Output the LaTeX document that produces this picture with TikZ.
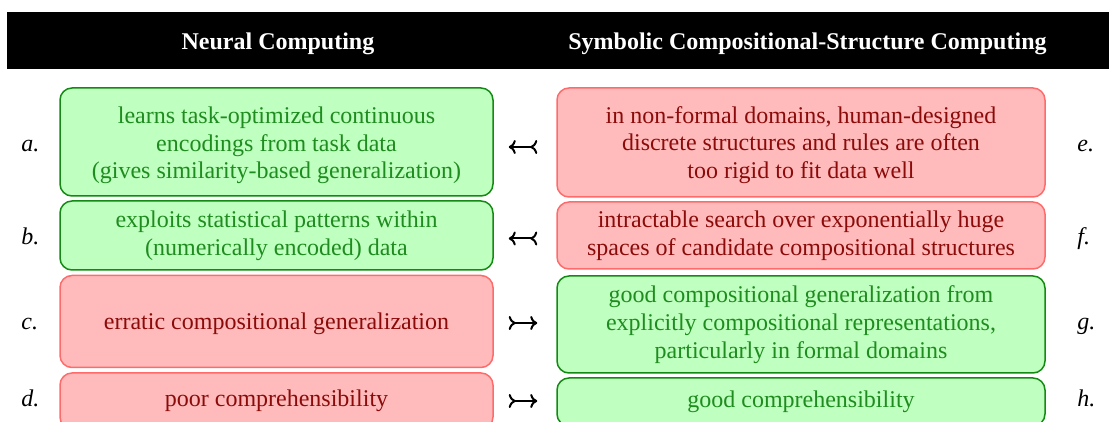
\documentclass[tikz,border=0pt]{standalone}
\usepackage{fontspec}
\setmainfont{Liberation Serif}
\usetikzlibrary{arrows.meta}

\definecolor{goodfill}{HTML}{BFFFBF}
\definecolor{goodline}{HTML}{138A13}
\definecolor{goodtext}{HTML}{1E8C1E}
\definecolor{badfill}{HTML}{FFBBBB}
\definecolor{badline}{HTML}{FF6B6B}
\definecolor{badtext}{HTML}{8B0A0A}

\begin{document}
\begin{tikzpicture}
	[x=0.5pt,y=-0.5pt,
	every node/.style={font=\fontsize{12}{13.9}\selectfont,inner sep=0pt},
	cell/.style={draw,rounded corners=6pt,line width=0.75pt,align=center},
	good/.style={cell,fill=goodfill,draw=goodline,text=goodtext},
	bad/.style={cell,fill=badfill,draw=badline,text=badtext},
	lbl/.style={anchor=base west,font=\fontsize{12}{13.9}\selectfont\itshape},
	head/.style={anchor=base,text=white,font=\fontsize{12}{14}\selectfont\bfseries},
	tailarr/.style={line width=1pt,
		{Computer Modern Rightarrow[reversed,width=7pt,length=3.5pt]}-{Computer Modern Rightarrow[width=7pt,length=3.5pt]}}]
	\useasboundingbox (0,0) rectangle (1109,422);
	\clip (0,0) rectangle (1109,422);
	
	% header band
	\fill[black] (7,12) rectangle (1109,69);
	\node[head] (hl) at (278,50) {Neural Computing};
	\node[head] (hr) at (807.5,50) {Symbolic Compositional-Structure Computing};
	
	% neural side
	\node[good,minimum width=216.5pt,minimum height=54pt] (a) at (276.5,142)
	{\rule{0pt}{11.7pt}learns task-optimized continuous\\encodings from task data\\(gives similarity-based generalization)};
	\node[good,minimum width=216.5pt,minimum height=34.5pt] (b) at (276.5,235.5)
	{exploits statistical patterns within\\(numerically encoded) data};
	\node[bad,minimum width=216.5pt,minimum height=46pt] (c) at (276.5,321.5)
	{\rule{0pt}{10.2pt}erratic compositional generalization};
	\node[bad,minimum width=216.5pt,minimum height=28pt] (d) at (276.5,401)
	{poor comprehensibility};
	
	% symbolic side
	\node[bad,minimum width=244pt,minimum height=54.5pt] (e) at (801,142.5)
	{\rule{0pt}{11pt}in non-formal domains, human-designed\\discrete structures and rules are often\\too rigid to fit data well};
	\node[bad,minimum width=244pt,minimum height=33.5pt] (f) at (801,235.5)
	{intractable search over exponentially huge\\spaces of candidate compositional structures};
	\node[good,minimum width=244pt,minimum height=48.5pt] (g) at (801,324.5)
	{good compositional generalization from\\explicitly compositional representations,\\particularly in formal domains};
	\node[good,minimum width=244pt,minimum height=24pt] (h) at (801,402)
	{good comprehensibility};
	
	% row labels
	\node[lbl] (la) at (21,152) {a.};
	\node[lbl] (lb) at (21,245) {b.};
	\node[lbl] (lc) at (21,329) {c.};
	\node[lbl] (ld) at (21,407) {d.};
	\node[lbl] (le) at (1077,152) {e.};
	\node[lbl] (lf) at (1077,245) {f.};
	\node[lbl] (lg) at (1077,329) {g.};
	\node[lbl] (lh) at (1077,407) {h.};
	
	% arrows between the columns
	\draw[tailarr,shorten <=9.5pt,shorten >=7.5pt] ([yshift=-2.25pt]e.west) -- ([yshift=-2.5pt]a.east);
	\draw[tailarr,shorten <=9.5pt,shorten >=7.5pt] ([yshift=-1.5pt]f.west) -- ([yshift=-1.5pt]b.east);
	\draw[tailarr,shorten <=7.5pt,shorten >=9.5pt] ([yshift=-0.75pt]c.east) -- ([yshift=0.75pt]g.west);
	\draw[tailarr,shorten <=7.5pt,shorten >=9.5pt] (d.east) -- ([yshift=0.5pt]h.west);
\end{tikzpicture}
\end{document}
